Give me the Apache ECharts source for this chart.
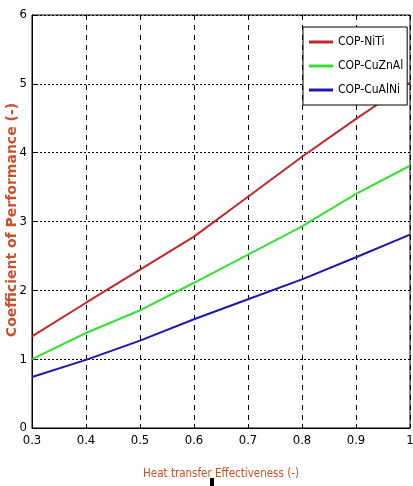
<!DOCTYPE html>
<html><head><meta charset="utf-8">
<script src="https://cdn.jsdelivr.net/npm/echarts@6/dist/echarts.min.js"></script>
<style>html,body{margin:0;padding:0;background:#fff}#c{width:413px;height:486px}</style>
</head><body><div id="c"></div>
<script>
const effectiveness = [0.3, 0.4, 0.5, 0.6, 0.7, 0.8, 0.9, 1.0];
const copNiTi    = [1.33, 1.82, 2.30, 2.78, 3.36, 3.94, 4.49, 5.02];
const copCuZnAl  = [1.00, 1.38, 1.71, 2.11, 2.52, 2.93, 3.40, 3.81];
const copCuAlNi  = [0.74, 0.99, 1.27, 1.58, 1.87, 2.16, 2.48, 2.81];
const seriesNames = ['COP-NiTi', 'COP-CuZnAl', 'COP-CuAlNi'];
const xTicks = [0.3, 0.4, 0.5, 0.6, 0.7, 0.8, 0.9, 1];
const yTicks = [0, 1, 2, 3, 4, 5, 6];
const yTitle = 'Coefficient of Performance (-)';
const xTitle = 'Heat transfer Effectiveness (-)';

const font = '"DejaVu Sans Condensed", "Liberation Sans Narrow", sans-serif';
const titleColor = '#c9502c';
const colors = ['#c0282a', '#33e033', '#1a1ab0'];
const pair = ys => effectiveness.map((x, i) => [x, ys[i]]);

const chart = echarts.init(document.getElementById('c'));
chart.setOption({
  animation: false,
  grid: { left: 32, right: 3, top: 15, bottom: 58, containLabel: false, outerBoundsMode: 'none',
    show: true, borderColor: '#000', borderWidth: 1 },
  legend: {
    orient: 'vertical', left: 303, top: 27,
    backgroundColor: '#fff', borderColor: '#000', borderWidth: 1,
    padding: [9, 4, 9, 6], itemGap: 12, itemWidth: 24, itemHeight: 3,
    icon: 'rect',
    textStyle: { fontFamily: font, fontSize: 12, color: '#000' },
    data: seriesNames
  },
  xAxis: {
    type: 'value', min: 0.3, max: 1, interval: 0.1,
    axisLine: { lineStyle: { color: '#000' } },
    axisTick: { inside: true, length: 4, lineStyle: { color: '#000' } },
    axisLabel: { fontFamily: font, fontSize: 13, color: '#000', margin: 6,
      formatter: v => { const t = xTicks.find(k => Math.abs(k - v) < 1e-6); return t === undefined ? '' : String(t); } },
    splitLine: { show: true, lineStyle: { color: '#000', type: [5, 5], width: 1 } },
    name: xTitle, nameLocation: 'middle', nameGap: 40,
    nameTextStyle: { fontFamily: font, fontSize: 11.5, color: titleColor }
  },
  yAxis: {
    type: 'value', min: 0, max: 6, interval: 1,
    axisLine: { show: true, lineStyle: { color: '#000' } },
    axisTick: { show: true, inside: true, length: 4, lineStyle: { color: '#000' } },
    axisLabel: { fontFamily: font, fontSize: 13, color: '#000', margin: 5,
      formatter: v => yTicks.includes(v) ? String(v) : '' },
    splitLine: { show: true, lineStyle: { color: '#000', type: [2, 2], width: 1 } }
  },
  series: [
    { name: seriesNames[0], type: 'line', data: pair(copNiTi), showSymbol: false, lineStyle: { color: colors[0], width: 2 }, itemStyle: { color: colors[0] } },
    { name: seriesNames[1], type: 'line', data: pair(copCuZnAl), showSymbol: false, lineStyle: { color: colors[1], width: 2 }, itemStyle: { color: colors[1] } },
    { name: seriesNames[2], type: 'line', data: pair(copCuAlNi), showSymbol: false, lineStyle: { color: colors[2], width: 2 }, itemStyle: { color: colors[2] } }
  ],
  graphic: [
    { type: 'text', x: 12, y: 220, rotation: Math.PI / 2,
      style: { text: yTitle, fill: titleColor, font: 'bold 14px "DejaVu Sans", sans-serif', align: 'center', verticalAlign: 'middle' } },
    { type: 'rect', shape: { x: 210, y: 478, width: 4, height: 8 }, style: { fill: '#000' } }
  ]
});
</script></body></html>
